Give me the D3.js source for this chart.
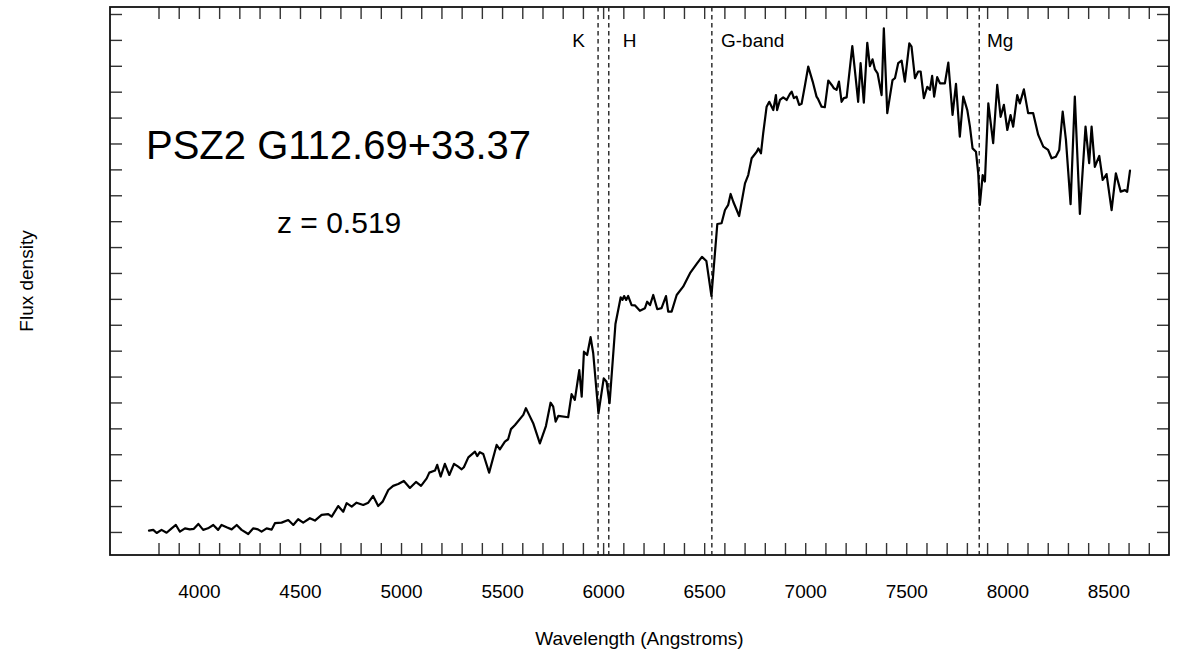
<!DOCTYPE html>
<html>
<head>
<meta charset="utf-8">
<script src="https://d3js.org/d3.v7.min.js"></script>
<style>
  html, body { margin: 0; padding: 0; background: #fff; }
  svg { display: block; }
  text { font-family: "Liberation Sans", Arial, Helvetica, sans-serif; fill: #000; }
</style>
</head>
<body>
<svg id="chart" width="1185" height="649"></svg>
<script>
// Observed-frame spectrum: wavelength (Angstrom) and flux density (arbitrary units)
const wavelength = [
  3753, 3774, 3791, 3815, 3840, 3865, 3886, 3906, 3931, 3955, 3975, 3997, 4021, 4045, 4071, 4095,
  4112, 4137, 4162, 4187, 4211, 4244, 4269, 4292, 4310, 4335, 4360, 4376, 4409, 4442, 4467, 4491,
  4516, 4549, 4574, 4607, 4640, 4657, 4689, 4714, 4731, 4756, 4780, 4813, 4838, 4862, 4887, 4909,
  4937, 4961, 4986, 5014, 5044, 5074, 5099, 5127, 5140, 5168, 5179, 5196, 5217, 5239, 5262, 5283,
  5300, 5311, 5333, 5366, 5377, 5390, 5407, 5436, 5473, 5489, 5514, 5530, 5544, 5564, 5605, 5618,
  5634, 5654, 5687, 5717, 5740, 5753, 5765, 5778, 5827, 5844, 5860, 5882, 5894, 5905, 5921, 5938,
  5951, 5977, 6003, 6017, 6032, 6061, 6087, 6096, 6104, 6114, 6124, 6141, 6157, 6182, 6207, 6218,
  6232, 6248, 6268, 6289, 6311, 6322, 6339, 6364, 6396, 6430, 6463, 6489, 6511, 6536, 6565, 6586,
  6603, 6619, 6631, 6644, 6661, 6673, 6702, 6718, 6735, 6760, 6768, 6781, 6792, 6809, 6822, 6834,
  6842, 6855, 6861, 6875, 6891, 6908, 6924, 6933, 6944, 6957, 6970, 6982, 6999, 7015, 7037, 7056,
  7064, 7081, 7097, 7114, 7131, 7142, 7155, 7167, 7180, 7191, 7205, 7233, 7249, 7262, 7274, 7290,
  7307, 7320, 7333, 7345, 7358, 7378, 7389, 7406, 7432, 7444, 7460, 7477, 7493, 7515, 7526, 7543,
  7559, 7571, 7587, 7604, 7617, 7628, 7638, 7653, 7667, 7691, 7708, 7729, 7746, 7765, 7782, 7802,
  7815, 7828, 7845, 7856, 7864, 7878, 7889, 7906, 7930, 7950, 7967, 7983, 8000, 8016, 8029, 8049,
  8062, 8082, 8103, 8128, 8153, 8178, 8202, 8219, 8240, 8257, 8274, 8290, 8313, 8334, 8359, 8387,
  8405, 8417, 8433, 8455, 8472, 8491, 8516, 8537, 8561, 8582, 8593, 8607
];
const flux = [
  0.05, 0.08, -0.04, 0.08, -0.03, 0.14, 0.27, 0.01, 0.14, 0.10, 0.12, 0.31, 0.08, 0.14, 0.27, 0.08,
  0.27, 0.18, 0.10, 0.27, 0.08, -0.08, 0.14, 0.10, 0.01, 0.14, 0.09, 0.34, 0.36, 0.46, 0.27, 0.49,
  0.36, 0.53, 0.44, 0.66, 0.69, 0.59, 1.00, 0.78, 1.11, 0.98, 1.13, 1.04, 1.13, 1.39, 1.00, 1.17,
  1.62, 1.78, 1.85, 1.97, 1.70, 1.93, 1.78, 2.07, 2.29, 2.37, 2.59, 2.14, 2.63, 2.20, 2.63, 2.52,
  2.42, 2.50, 2.88, 3.10, 2.93, 3.08, 3.01, 2.29, 3.36, 3.19, 3.49, 3.58, 3.97, 4.13, 4.52, 4.78,
  4.52, 4.20, 3.42, 4.09, 4.99, 4.84, 4.26, 4.48, 4.43, 5.32, 5.10, 6.25, 5.22, 6.96, 6.83, 7.52,
  6.90, 4.58, 5.93, 5.80, 4.97, 8.03, 9.06, 8.96, 9.11, 8.96, 9.11, 8.76, 8.75, 8.54, 8.64, 8.89,
  8.76, 9.15, 8.60, 8.64, 9.11, 8.51, 8.51, 9.15, 9.47, 9.99, 10.35, 10.62, 10.46, 9.11, 11.89, 11.92,
  12.43, 12.63, 13.05, 12.75, 12.43, 12.20, 13.46, 13.78, 14.43, 14.68, 14.81, 14.62, 15.39, 16.42, 16.61, 16.42,
  16.29, 16.87, 16.29, 16.68, 16.78, 16.68, 16.91, 17.00, 16.75, 16.81, 16.49, 16.53, 17.26, 17.97, 17.39, 16.81,
  16.71, 16.42, 16.40, 17.43, 17.26, 17.13, 17.07, 17.39, 16.61, 16.75, 16.78, 18.76, 17.58, 16.61, 18.10, 16.58,
  18.89, 17.99, 18.25, 17.86, 17.71, 16.87, 19.45, 16.17, 17.45, 17.52, 18.10, 18.20, 17.39, 18.87, 18.74, 17.52,
  17.78, 17.78, 16.75, 17.19, 17.07, 17.61, 16.81, 17.56, 17.32, 17.32, 18.12, 16.10, 17.30, 15.26, 16.81, 16.29,
  15.65, 14.81, 14.68, 13.85, 12.63, 13.78, 13.53, 16.55, 15.01, 17.26, 16.03, 16.49, 15.52, 16.10, 15.65, 16.87,
  16.55, 17.09, 16.17, 16.17, 15.33, 14.88, 14.75, 14.43, 14.49, 14.75, 16.23, 15.14, 12.66, 16.81, 12.28, 15.65,
  14.24, 15.65, 14.10, 14.52, 13.59, 13.82, 12.43, 13.85, 13.14, 13.20, 13.13, 13.95
];

// Absorption features marked on the spectrum (observed wavelengths at z = 0.519)
const lineNames = ["K", "H", "G-band", "Mg"];
const lineWavelengths = [5975, 6028, 6538, 7861];
const labelWavelengths = [5879, 6131, 6740, 7965];

// Axis ticks
const xLabelTicks = [4000, 4500, 5000, 5500, 6000, 6500, 7000, 7500, 8000, 8500];
const xMinorTicks = d3.range(3800, 8701, 100);
const yTicks = d3.range(0, 21, 1);

const xDomain = [3560, 8800];
const yDomain = [-0.89, 20.27];

const svg = d3.select("#chart");
const plot = { left: 110, top: 7, right: 1169, bottom: 555 };

const x = d3.scaleLinear().domain(xDomain).range([plot.left, plot.right]);
const y = d3.scaleLinear().domain(yDomain).range([plot.bottom, plot.top]);

const tickLen = 12;

function styleTicks(g) {
  g.select(".domain").remove();
  g.selectAll(".tick line").attr("stroke", "#333").attr("stroke-width", 1.4);
}

// Inward ticks on all four sides
svg.append("g").attr("transform", `translate(0,${plot.bottom})`)
  .call(d3.axisBottom(x).tickValues(xMinorTicks).tickSize(-tickLen).tickFormat(""))
  .call(styleTicks);
svg.append("g").attr("transform", `translate(0,${plot.top})`)
  .call(d3.axisTop(x).tickValues(xMinorTicks).tickSize(-tickLen).tickFormat(""))
  .call(styleTicks);
svg.append("g").attr("transform", `translate(${plot.left},0)`)
  .call(d3.axisLeft(y).tickValues(yTicks).tickSize(-tickLen).tickFormat(""))
  .call(styleTicks);
svg.append("g").attr("transform", `translate(${plot.right},0)`)
  .call(d3.axisRight(y).tickValues(yTicks).tickSize(-tickLen).tickFormat(""))
  .call(styleTicks);

// Wavelength labels
const xLab = svg.append("g").attr("transform", `translate(0,${plot.bottom})`)
  .call(d3.axisBottom(x).tickValues(xLabelTicks).tickSize(0).tickFormat(d3.format("d")));
xLab.select(".domain").remove();
xLab.selectAll("text")
  .attr("y", 43).attr("dy", 0)
  .style("font-size", "19px")
  .style("font-family", "'Liberation Sans', Arial, sans-serif")
  .attr("fill", "#000");

// Frame
svg.append("rect")
  .attr("x", plot.left).attr("y", plot.top)
  .attr("width", plot.right - plot.left).attr("height", plot.bottom - plot.top)
  .attr("fill", "none").attr("stroke", "#111").attr("stroke-width", 1.8);

// Feature markers
svg.append("g").selectAll("line")
  .data(lineWavelengths)
  .join("line")
  .attr("x1", d => x(d)).attr("x2", d => x(d))
  .attr("y1", y(yDomain[1])).attr("y2", y(yDomain[0]))
  .attr("stroke", "#222").attr("stroke-width", 1.4)
  .attr("stroke-dasharray", "4.5,3.5");

svg.append("g").selectAll("text")
  .data(lineNames)
  .join("text")
  .attr("x", (d, i) => x(labelWavelengths[i]))
  .attr("y", 47)
  .attr("text-anchor", "middle")
  .style("font-size", "19px")
  .text(d => d);

// Spectrum
const pts = wavelength.map((w, i) => [w, flux[i]]);
svg.append("path")
  .datum(pts)
  .attr("fill", "none")
  .attr("stroke", "#000")
  .attr("stroke-width", 2.2)
  .attr("stroke-linejoin", "round")
  .attr("stroke-linecap", "round")
  .attr("d", d3.line().x(d => x(d[0])).y(d => y(d[1])));

// Annotations
svg.append("text")
  .attr("x", 146).attr("y", 159)
  .style("font-size", "40px")
  .text("PSZ2 G112.69+33.37");
svg.append("text")
  .attr("x", 277).attr("y", 233)
  .style("font-size", "30px")
  .text("z = 0.519");

// Axis titles
svg.append("text")
  .attr("x", (plot.left + plot.right) / 2).attr("y", 645)
  .attr("text-anchor", "middle")
  .style("font-size", "19px")
  .text("Wavelength (Angstroms)");
svg.append("text")
  .attr("transform", `translate(33,${(plot.top + plot.bottom) / 2}) rotate(-90)`)
  .attr("text-anchor", "middle")
  .style("font-size", "19px")
  .text("Flux density");
</script>
</body>
</html>
